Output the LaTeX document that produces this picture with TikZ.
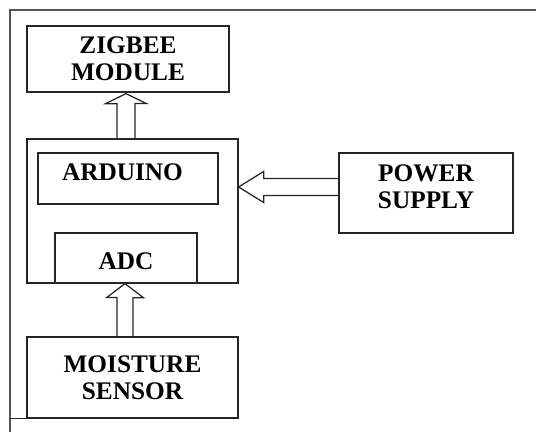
\documentclass[tikz,border=0pt]{standalone}
\usepackage{fontspec}
\setmainfont{Liberation Serif}
\usetikzlibrary{calc}
\definecolor{bdInk} {HTML}{262626}
\definecolor{bdRule}{HTML}{555555}

\begin{document}
\begin{tikzpicture}[font=\fontsize{18}{19.5}\selectfont\bfseries,
      box/.style={draw=bdInk,line width=0.9pt,align=center,inner sep=0pt},
      blockarrow/.style args={#1/#2/#3}{draw=bdInk,line width=0.9pt,
        to path={($(\tikztostart)!#1cm!90:(\tikztotarget)$)
          -- ($(\tikztotarget)!#3cm!(\tikztostart)!#1cm!90:(\tikztotarget)$)
          -- ($(\tikztotarget)!#3cm!(\tikztostart)!#2cm!90:(\tikztotarget)$)
          -- (\tikztotarget)
          -- ($(\tikztotarget)!#3cm!(\tikztostart)!#2cm!-90:(\tikztotarget)$)
          -- ($(\tikztotarget)!#3cm!(\tikztostart)!#1cm!-90:(\tikztotarget)$)
          -- ($(\tikztostart)!#1cm!-90:(\tikztotarget)$)}}]
    \useasboundingbox (0,0) rectangle (13.4,10.8);

    % FRAME — top rule and left rule only
    \coordinate (ftl) at (0.25,10.55);
    \draw[bdRule,line width=1.2pt] (13.4,10.55) -- (ftl) -- (0.25,0);

    % BLOCKS
    \node[box,minimum width=5.05cm,minimum height=1.65cm] (zig) at (3.20,9.325) {ZIGBEE\\MODULE};
    \node[box,minimum width=5.275cm,minimum height=3.6cm] (mcu) at (3.3125,5.525) {};
    \node[box,minimum width=4.5cm,minimum height=1.275cm,text width=3.3cm,align=left,
          text depth=0.32cm] (ard) at (3.20,6.3375) {ARDUINO};
    \node[box,minimum width=3.55cm,minimum height=1.25cm,text height=0.6cm] (adc) at (3.15,4.35) {ADC};
    \node[box,minimum width=4.35cm,minimum height=2.0cm,text depth=0.32cm] (pwr) at (10.65,5.975) {POWER\\SUPPLY};
    \node[box,minimum width=5.275cm,minimum height=2.025cm] (msens) at (3.3125,1.3625) {MOISTURE\\SENSOR};
    \draw[bdInk,line width=0.9pt] (msens.south west) -- (msens.south west -| ftl);

    % ARROWS — hollow block arrows
    \draw[blockarrow=0.225/0.5125/0.25] ($(mcu.north)+(-0.16,0)$) to ($(zig.south)+(-0.05,-0.025)$);
    \draw[blockarrow=0.2125/0.3875/0.625] ($(pwr.west)+(0,0.15)$) to ($(mcu.east)+(0,0.6)$);
    \draw[blockarrow=0.2/0.46/0.35] ($(msens.north)+(-0.19,0)$) to ($(adc.south)+(-0.025,0)$);
  \end{tikzpicture}
\end{document}
